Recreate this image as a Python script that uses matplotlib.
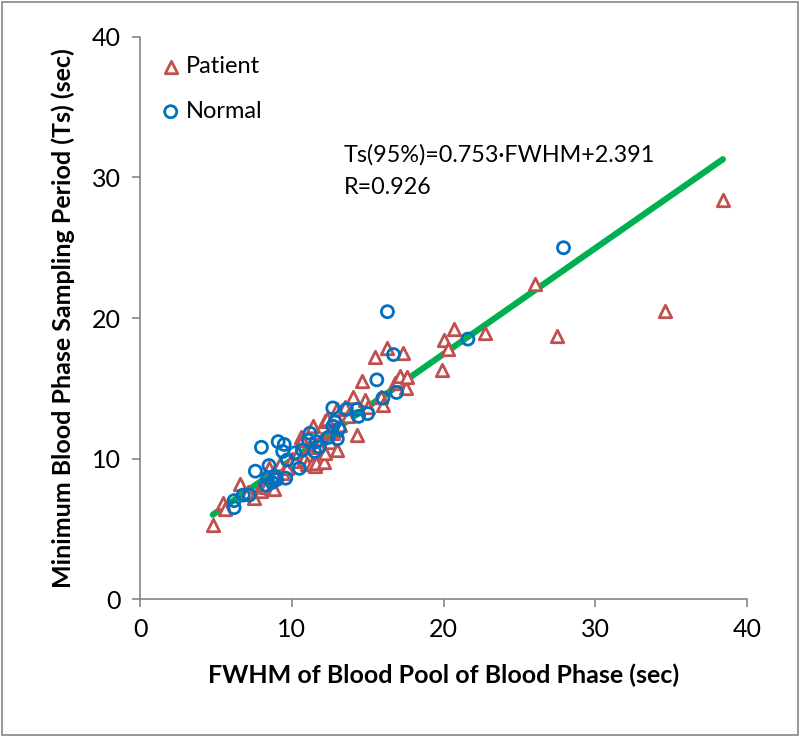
import matplotlib
matplotlib.use("Agg")
import matplotlib.pyplot as plt
from matplotlib.patches import Rectangle

plt.rcParams['font.family'] = ['Lato', 'DejaVu Sans']

# Patient group (FWHM, Ts)
patient_x = [4.8, 5.5, 5.6, 6.6, 7.1, 7.5, 7.9, 8.0, 8.3, 8.5, 8.6, 8.8, 8.9, 9.2, 9.4,
             9.7, 10.0, 10.2, 10.4, 10.6, 10.7, 10.8, 11.0, 11.2, 11.3, 11.4, 11.5, 11.5,
             11.6, 11.8, 12.0, 12.1, 12.2, 12.2, 12.3, 12.5, 12.7, 12.9, 13.0, 13.0, 13.2,
             13.5, 13.7, 14.0, 14.3, 14.6, 14.8, 15.0, 15.5, 15.9, 16.0, 16.3, 16.8, 17.0,
             17.1, 17.3, 17.5, 17.6, 19.9, 20.0, 20.3, 20.7, 22.7, 26.0, 27.5, 34.6, 38.4]
patient_y = [5.3, 6.8, 6.4, 8.2, 7.6, 7.2, 7.9, 7.7, 8.0, 9.3, 7.9, 7.8, 8.8, 9.6, 9.0,
             9.3, 10.0, 9.8, 10.4, 11.5, 11.3, 10.0, 9.6, 10.8, 9.6, 12.3, 11.0, 9.5,
             9.7, 10.9, 11.4, 9.75, 10.4, 12.7, 12.8, 11.2, 11.8, 12.0, 10.6, 13.5, 12.4,
             13.7, 13.0, 14.4, 11.7, 15.5, 14.2, 13.7, 17.2, 14.4, 13.8, 17.9, 15.4, 15.6,
             15.9, 17.5, 15.0, 15.8, 16.3, 18.4, 17.8, 19.2, 18.9, 22.4, 18.7, 20.5, 28.4]

# Normal group (FWHM, Ts)
normal_x = [6.2, 6.2, 6.8, 7.2, 7.6, 8.0, 8.3, 8.4, 8.5, 8.7, 8.9, 9.0, 9.1, 9.4, 9.5,
            9.6, 9.7, 10.2, 10.5, 10.7, 11.1, 11.2, 11.5, 11.6, 11.8, 12.4, 12.7, 12.7,
            12.85, 13.0, 13.1, 13.6, 14.3, 14.4, 15.0, 15.6, 16.0, 16.3, 16.7, 16.9,
            21.6, 27.9]
normal_y = [6.5, 7.0, 7.4, 7.4, 9.1, 10.8, 8.1, 8.6, 9.5, 8.3, 8.7, 8.5, 11.2, 10.5, 11.0,
            8.6, 9.9, 10.4, 9.3, 10.6, 11.3, 11.8, 10.5, 11.2, 10.8, 11.5, 12.3, 13.6,
            12.6, 11.4, 12.1, 13.5, 13.5, 13.0, 13.2, 15.6, 14.3, 20.45, 17.4, 14.7,
            18.5, 25.0]

# regression line end points
fit_x = [4.8, 38.4]
fit_y = [6.0, 31.3]

eq_text = "Ts(95%)=0.753\u00b7FWHM+2.391"
r_text = "R=0.926"

fig = plt.figure(figsize=(8, 7.38), dpi=100)
ax = fig.add_axes([0.175, 0.1883, 0.759, 0.7616])

ax.plot(fit_x, fit_y, color='#00B050', lw=4.5, solid_capstyle='round', zorder=2)
ax.scatter(patient_x, patient_y, marker='^', s=80, facecolors='white',
           edgecolors='#C0504D', linewidths=2, zorder=3, label='Patient')
ax.scatter(normal_x, normal_y, marker='o', s=75, facecolors='none',
           edgecolors='#0070C0', linewidths=2, zorder=4, label='Normal')

ax.set_xlim(0, 40)
ax.set_ylim(0, 40)
ax.set_xticks([0, 10, 20, 30, 40])
ax.set_yticks([0, 10, 20, 30, 40])
for s in ['top', 'right']:
    ax.spines[s].set_visible(False)
for s in ['left', 'bottom']:
    ax.spines[s].set_color('#868686')
    ax.spines[s].set_linewidth(1.2)
ax.tick_params(direction='out', length=6, width=1.2, color='#868686',
               labelsize=18, pad=8)

ax.set_xlabel('FWHM of Blood Pool of Blood Phase (sec)', fontsize=18,
              fontweight='bold', labelpad=16)
ax.set_ylabel('Minimum Blood Phase Sampling Period (Ts) (sec)', fontsize=18,
              fontweight='bold', labelpad=12)

ax.text(13.4, 31.6, eq_text, fontsize=16.8, va='center', ha='left')
ax.text(13.4, 29.3, r_text, fontsize=16.8, va='center', ha='left')

ax.legend(loc='upper left', bbox_to_anchor=(0.0, 0.995), frameon=False,
          fontsize=17, handletextpad=0.05, labelspacing=1.0, handlelength=1.2,
          borderaxespad=0.3)

fig.patches.append(Rectangle((0.003, 0.004), 0.994, 0.993, transform=fig.transFigure,
                             fill=False, edgecolor='#868686', lw=1.2))

fig.savefig('out.png', dpi=100)
